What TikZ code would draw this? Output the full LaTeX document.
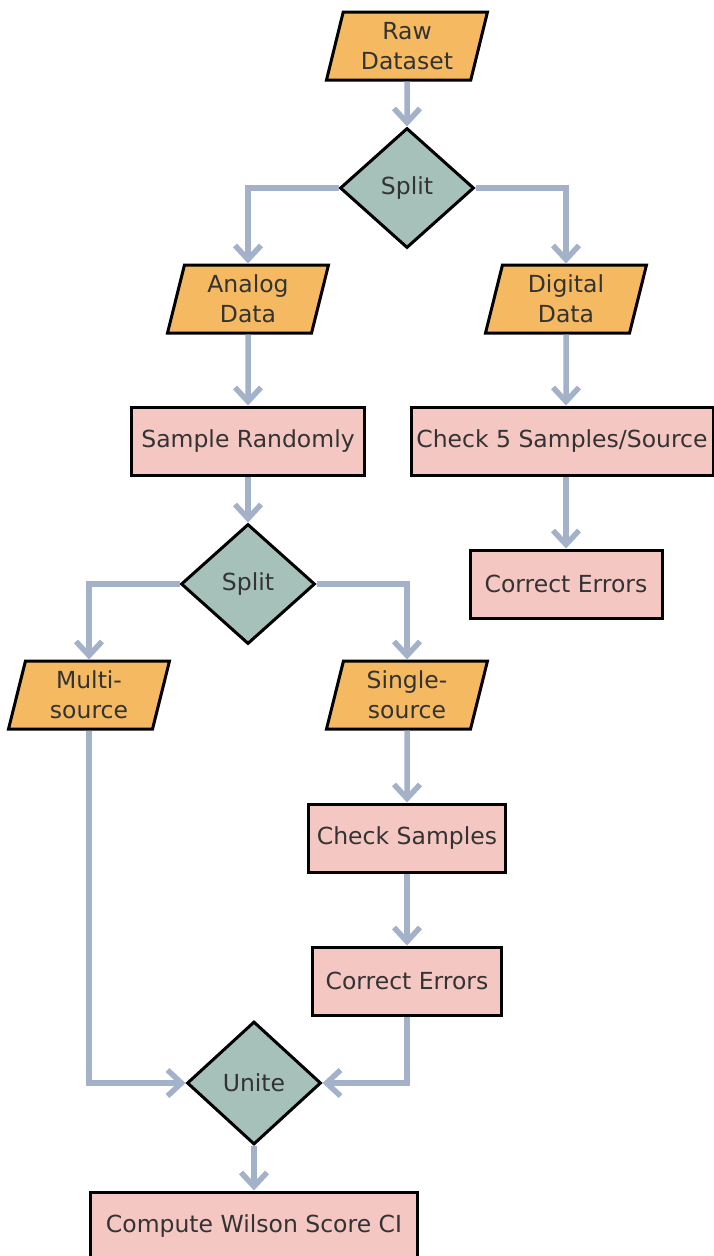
\documentclass[tikz,border=0pt]{standalone}
\usepackage{fontspec}
\setmainfont{DejaVu Sans}
\usetikzlibrary{shapes.geometric,arrows.meta}
\definecolor{iofill}{HTML}{F4B961}
\definecolor{decfill}{HTML}{A6C0BA}
\definecolor{procfill}{HTML}{F5C7C3}
\definecolor{arrowc}{HTML}{A3B2C9}
\definecolor{txt}{HTML}{333333}
\begin{document}
\begin{tikzpicture}[x=1pt, y=-1pt,
    every node/.style={font=\fontsize{23.5}{30}\selectfont, text=txt, align=center},
    io/.style={trapezium, trapezium left angle=72, trapezium right angle=108,
        trapezium stretches body, draw=black, line width=3pt, fill=iofill,
        minimum width=161pt, minimum height=68pt, inner sep=2pt},
    dec/.style={diamond, draw=black, line width=3pt, fill=decfill,
        minimum width=134pt, minimum height=120pt, inner sep=0pt},
    proc/.style={rectangle, draw=black, line width=3pt, fill=procfill,
        minimum height=68pt, inner sep=2pt},
    arr/.style={draw=arrowc, line width=5.5pt, -{Straight Barb[length=14pt,width=26pt]}}]
    \useasboundingbox (0,0) rectangle (714,1256);
    \node[io] (raw) at (407,46) {Raw\\Dataset};
    \node[dec] (split1) at (407,188) {Split};
    \node[io] (analog) at (248,299) {Analog\\Data};
    \node[io] (digital) at (566,299) {Digital\\Data};
    \node[proc, minimum width=233pt] (sample) at (248,441) {Sample Randomly};
    \node[proc, minimum width=302pt] (check5) at (562,441) {Check 5 Samples/Source};
    \node[proc, minimum width=192pt] (correctA) at (566,584) {Correct Errors};
    \node[dec] (split2) at (248,584) {Split};
    \node[io] (multi) at (89,695) {Multi-\\source};
    \node[io] (single) at (407,695) {Single-\\source};
    \node[proc, minimum width=197pt] (checks) at (407,838) {Check Samples};
    \node[proc, minimum width=189pt] (correctB) at (407,981) {Correct Errors};
    \node[dec, minimum height=123pt] (unite) at (254,1083) {Unite};
    \node[proc, minimum width=327pt] (compute) at (254,1226) {Compute Wilson Score CI};
    \draw[arr] (raw) -- (split1);
    \draw[arr] (split1) -| (analog);
    \draw[arr] (split1) -| (digital);
    \draw[arr] (analog) -- (sample);
    \draw[arr] (digital) -- (digital |- check5.north);
    \draw[arr] (correctA |- check5.south) -- (correctA);
    \draw[arr] (sample) -- (split2);
    \draw[arr] (split2) -| (multi);
    \draw[arr] (split2) -| (single);
    \draw[arr] (single) -- (checks);
    \draw[arr] (checks) -- (correctB);
    \draw[arr] (multi) |- (unite);
    \draw[arr] (correctB) |- (unite);
    \draw[arr] (unite) -- (compute);
\end{tikzpicture}
\end{document}
